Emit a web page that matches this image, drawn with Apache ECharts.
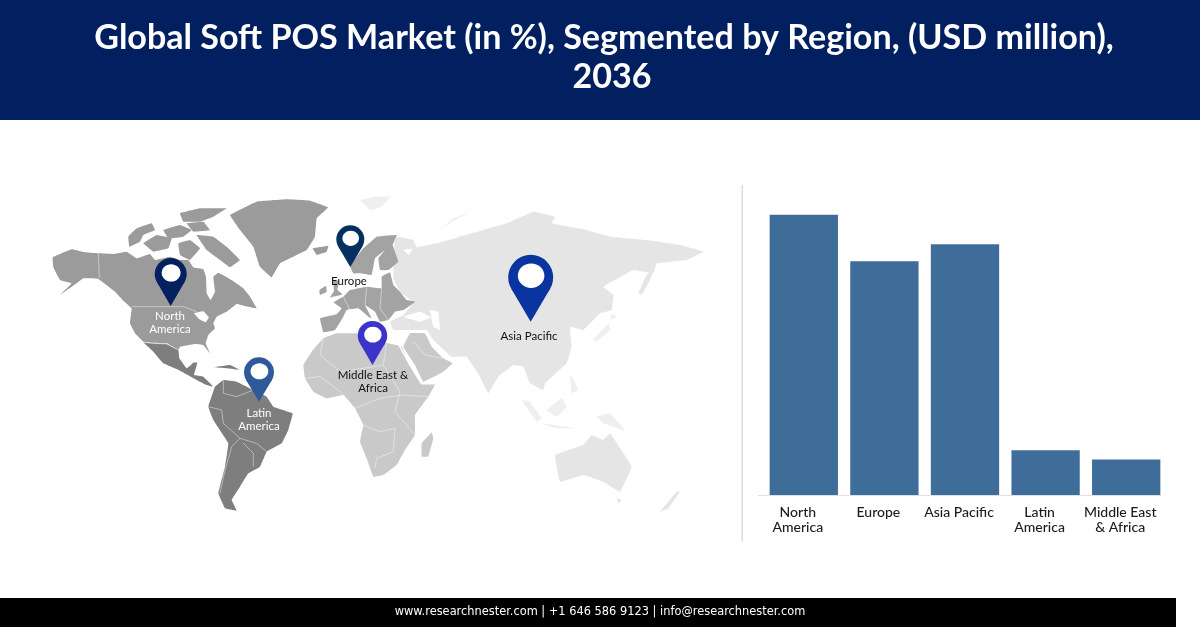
<!DOCTYPE html>
<html>
<head>
<meta charset="utf-8">
<script src="https://cdn.jsdelivr.net/npm/echarts@6/dist/echarts.min.js"></script>
<style>
html, body { margin: 0; padding: 0; background: #fff; }
#main { width: 1200px; height: 628px; }
</style>
</head>
<body>
<div id="main"></div>
<script>
var categories = ['North\nAmerica', 'Europe', 'Asia Pacific', 'Latin\nAmerica', 'Middle East\n& Africa'];
var shares = [33.2, 27.7, 29.7, 5.3, 4.2];

var titleLine1 = 'Global Soft POS Market (in %), Segmented by Region, (USD million),';
var titleLine2 = '2036';
var footerText = 'www.researchnester.com | +1 646 586 9123 | info@researchnester.com';

var GREY_NA = '#9b9b9b', GREY_LA = '#7e7e7e', GREY_EU = '#a3a3a3', GREY_AF = '#c9c9c9', GREY_AS = '#e5e5e5', GREY_IS = '#efefef';

// rough map outlines, traced at 3x: [origin x, origin y, colour, points]
var A = [40, 180], B = [370, 180], C = [300, 195];
var landShapes = [
    // north america
    [A, GREY_NA, [38,232,60,222,95,208,130,216,175,220,220,222,260,215,290,235,330,222,345,240,390,230,420,240,445,240,460,262,490,268,498,290,500,340,512,360,525,335,520,290,535,278,575,300,610,325,630,350,650,385,615,378,590,372,560,395,530,410,520,430,525,445,505,465,497,490,510,520,490,495,465,492,420,500,415,510,380,490,335,488,310,485,285,460,270,430,275,385,250,362,225,335,175,297,130,295,110,310,60,345,95,310,60,300,40,262]],
    [A, GREY_NA, [265,170,290,145,335,130,345,150,310,165,300,185,268,200]],
    [A, GREY_NA, [310,190,350,165,395,175,385,205,340,215]],
    [A, GREY_NA, [370,150,420,135,455,150,430,170,385,175]],
    [A, GREY_NA, [415,190,450,180,480,205,450,240,420,225]],
    [A, GREY_NA, [470,165,520,170,560,200,600,240,570,262,540,240,500,210]],
    [A, GREY_NA, [420,100,480,85,560,85,520,110,480,125,430,125]],
    [A, GREY_NA, [440,130,490,125,510,150,460,155]],
    [A, GREY_NA, [570,105,650,65,740,58,810,62,865,82,830,115,825,170,800,210,720,250,695,292,660,260,640,200,600,150]],
    [A, GREY_NA, [818,205,865,198,860,215,830,225]],
    // great lakes
    [A, '#ffffff', [462,400,490,394,507,412,497,427,477,417]],
    // latin america
    [A, GREY_LA, [310,487,335,490,380,492,415,510,418,535,440,565,460,548,472,548,462,585,490,590,520,620,500,615,480,605,420,572,370,550,340,515]],
    [A, GREY_LA, [520,562,570,555,600,570,560,565]],
    [A, GREY_LA, [525,620,550,600,590,605,640,630,680,650,700,680,758,700,745,750,725,790,680,815,660,860,625,880,600,920,575,960,590,992,555,985,535,940,555,860,565,790,520,720,505,680]],
    // asia pacific
    [B, GREY_AS, [80,275,110,235,130,205,200,190,270,170,340,150,410,130,490,95,555,110,545,130,650,150,720,170,830,180,930,195,1000,215,950,240,860,250,850,280,790,270,700,320,730,345,725,390,690,400,640,450,600,440,605,500,590,550,525,610,520,630,480,610,460,560,430,555,385,590,355,640,330,590,290,530,245,530,190,480,170,450,70,450,60,425,100,405,130,365,100,300]],
    [C, GREY_AS, [285,125,340,135,350,160,310,165,340,190,420,170,500,180,500,300,340,320,300,290,280,250]],
    [B, GREY_AS, [555,825,640,795,665,765,700,780,720,760,785,860,750,935,700,905,640,885,570,905]],
    [B, GREY_AS, [805,340,830,285,855,260,840,300,815,345]],
    [B, GREY_AS, [740,955,755,960,745,970]],
    [B, GREY_AS, [870,995,920,935,930,935,895,985]],
    [B, GREY_IS, [210,150,250,115,300,97,245,125]],
    [B, GREY_IS, [670,480,715,430,720,450,680,485]],
    [B, GREY_IS, [725,400,740,410,720,420]],
    [B, GREY_IS, [455,660,480,665,515,715,500,725]],
    [B, GREY_IS, [530,690,575,655,590,680,560,710]],
    [B, GREY_IS, [510,730,620,745,560,745]],
    [B, GREY_IS, [600,580,625,630,605,640]],
    [B, GREY_IS, [680,710,720,700,765,752,700,730]],
    // caspian and black sea cut out of asia
    [B, '#ffffff', [180,390,205,395,210,450,190,440]],
    [B, '#ffffff', [100,410,150,395,185,412,150,425]],
    // europe
    [C, GREY_EU, [150,212,190,160,230,125,290,120,278,150,295,200,265,225,240,225,235,190,255,165,225,190,215,240,180,235,160,235]],
    [C, GREY_EU, [100,255,118,258,112,285,128,298,90,308,102,288]],
    [C, GREY_EU, [58,285,78,272,80,290,60,300]],
    [C, GREY_EU, [100,322,130,305,150,285,200,275,245,280,245,245,270,232,280,270,300,290,320,315,345,320,310,345,285,350,265,375,240,380,225,350,195,330,215,370,205,365,175,340,140,345,130,365,105,405,70,412,60,370,110,358,125,340]],
    [C, GREY_IS, [180,15,225,5,270,5,245,35,210,45]],
    // africa and middle east
    [C, GREY_AF, [10,510,35,470,70,430,110,415,170,415,190,430,265,445,305,455,330,510,360,562,405,568,385,605,345,660,345,720,315,765,290,810,250,840,220,845,200,790,180,740,190,690,165,640,130,600,80,610,40,590,15,550]],
    [C, GREY_AF, [395,712,400,730,385,785,365,785,365,745]],
    [C, GREY_AF, [310,455,330,415,375,415,395,455,430,490,458,505,430,530,370,560,345,510]]
];

// thin pale country borders
var borderLines = [
    [A, [175,220,178,295]],
    [A, [275,380,430,380,470,395]],
    [A, [310,487,335,490,380,492,415,510]],
    [A, [550,600,550,640,590,650,640,630]],
    [A, [505,680,545,690,550,730,600,775,650,790,680,815]],
    [A, [600,775,575,800,555,870,540,940]],
    [A, [610,790,640,820,640,860]],
    [C, [130,305,150,345]],
    [C, [200,275,195,330]],
    [C, [245,280,240,340,265,375]],
    [C, [70,430,60,480,120,530,190,520,250,510,260,445]],
    [C, [15,550,60,545,120,590,165,640]],
    [C, [165,640,240,610,305,600,385,605]],
    [C, [250,510,300,590,285,650,345,720]],
    [C, [190,690,240,710,285,700,280,770,230,790,225,820]],
    [C, [340,440,375,480,430,490]]
];
// red sea
var seaLines = [
    [C, [298,452,330,510,365,566,405,566]]
];

// pins: [head x, head y, radius, tip y, colour]
var pins = [
    [170.7, 274, 16, 306, '#03205f'],
    [350.3, 239.3, 14, 267, '#04305f'],
    [259, 372.3, 15, 401.7, '#2f5a9a'],
    [372.5, 335.7, 14.7, 365, '#3a35c8'],
    [530.7, 277.3, 22.5, 321.7, '#0a35a0']
];
var pinLabels = [
    ['North\nAmerica', 170, 323, '#ffffff'],
    ['Europe', 349, 281, '#111111'],
    ['Latin\nAmerica', 259, 420, '#ffffff'],
    ['Middle East &\nAfrica', 373, 382, '#111111'],
    ['Asia Pacific', 529, 336, '#111111']
];

function toPoints(origin, flat) {
    var pts = [];
    for (var i = 0; i < flat.length; i += 2) {
        pts.push([origin[0] + flat[i] / 3, origin[1] + flat[i + 1] / 3]);
    }
    return pts;
}

var graphics = [
    {type: 'rect', shape: {x: 0, y: 0, width: 1200, height: 120}, style: {fill: '#022060'}},
    {type: 'rect', shape: {x: 0, y: 598, width: 1176, height: 29}, style: {fill: '#000000'}},
    {type: 'text', x: 600, y: 612.5, style: {text: footerText, fill: '#ffffff', font: '11.4px "DejaVu Sans"', align: 'center', verticalAlign: 'middle'}},
    {type: 'rect', shape: {x: 741.5, y: 185, width: 1.5, height: 356}, style: {fill: '#dddddd'}},
    {type: 'rect', shape: {x: 758, y: 495, width: 403, height: 1}, style: {fill: '#e0e0e0'}}
];

landShapes.forEach(function (s) {
    graphics.push({type: 'polygon', shape: {points: toPoints(s[0], s[2]), smooth: 0.05}, style: {fill: s[1]}});
});
borderLines.forEach(function (b) {
    graphics.push({type: 'polyline', shape: {points: toPoints(b[0], b[1])}, style: {stroke: 'rgba(255,255,255,0.55)', lineWidth: 0.8, fill: null}});
});
seaLines.forEach(function (b) {
    graphics.push({type: 'polyline', shape: {points: toPoints(b[0], b[1])}, style: {stroke: '#ffffff', lineWidth: 1.6, fill: null}});
});
pins.forEach(function (p) {
    var d = p[3] - p[1], sin = p[2] / d, cos = Math.sqrt(1 - sin * sin);
    graphics.push({type: 'circle', shape: {cx: p[0], cy: p[1], r: p[2]}, style: {fill: p[4]}});
    graphics.push({type: 'polygon', shape: {points: [[p[0] - p[2] * cos, p[1] + p[2] * sin], [p[0] + p[2] * cos, p[1] + p[2] * sin], [p[0], p[3]]]}, style: {fill: p[4]}});
    graphics.push({type: 'ellipse', shape: {cx: p[0] + 0.4, cy: p[1] - p[2] * 0.07, rx: p[2] * 0.59, ry: p[2] * 0.54}, style: {fill: '#ffffff'}});
});
pinLabels.forEach(function (l) {
    graphics.push({type: 'text', x: l[1], y: l[2], style: {text: l[0], fill: l[3], font: '11.5px Lato', lineHeight: 12.5, align: 'center', verticalAlign: 'middle'}});
});

var titleStyle = {color: '#ffffff', fontFamily: 'Lato', fontWeight: 700, fontSize: 34.1, lineHeight: 39};

var myChart = echarts.init(document.getElementById('main'), null, {renderer: 'canvas'});
var option = {
    animation: false,
    backgroundColor: '#ffffff',
    title: [
        {text: titleLine1, left: 599, top: 13.5, textAlign: 'center', textStyle: titleStyle},
        {text: titleLine2, left: 607, top: 52.5, textAlign: 'center', textStyle: titleStyle}
    ],
    grid: {left: 763.5, top: 208, width: 403, height: 287},
    xAxis: {
        type: 'category',
        data: categories,
        axisLine: {show: false},
        axisTick: {show: false},
        axisLabel: {
            interval: 0,
            margin: 9.5,
            padding: [0, 12, 0, 0],
            color: '#1c1c1c',
            fontFamily: 'Lato',
            fontWeight: 500,
            fontSize: 14,
            lineHeight: 15
        }
    },
    yAxis: {type: 'value', min: 0, max: 34, show: false},
    series: [
        {
            type: 'bar',
            data: shares,
            barWidth: 68.3,
            itemStyle: {color: '#3f6d9a'}
        }
    ],
    graphic: {elements: graphics}
};
myChart.setOption(option);
</script>
</body>
</html>
